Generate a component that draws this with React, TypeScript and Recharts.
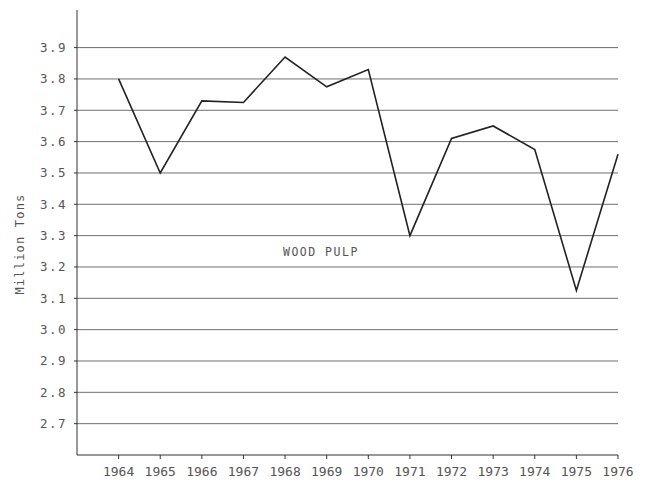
import { CartesianGrid, Line, LineChart, XAxis, YAxis } from "recharts";

const years = [1964, 1965, 1966, 1967, 1968, 1969, 1970, 1971, 1972, 1973, 1974, 1975, 1976];
const woodPulp = [3.8, 3.5, 3.73, 3.725, 3.87, 3.775, 3.83, 3.3, 3.61, 3.65, 3.575, 3.125, 3.56];
const yTicks = [2.7, 2.8, 2.9, 3.0, 3.1, 3.2, 3.3, 3.4, 3.5, 3.6, 3.7, 3.8, 3.9];

const data = years.map((year, i) => ({ year, value: woodPulp[i] }));

const typeFont = "'DejaVu Sans Mono', monospace";

export default function App() {
  return (
    <div style={{ position: "absolute", left: 0, top: 0, width: 665, height: 487, background: "#fff" }}>
      <LineChart
        width={665}
        height={487}
        data={data}
        margin={{ top: 10, right: 47, bottom: 2, left: 0 }}
      >
        <CartesianGrid
          vertical={false}
          horizontalValues={yTicks}
          stroke="#6f6f6f"
          strokeWidth={1}
        />
        <XAxis
          dataKey="year"
          type="number"
          domain={[1963, 1976]}
          ticks={years}
          height={30}
          stroke="#333"
          tickSize={4}
          tickMargin={8}
          tick={{ fill: "#555", fontSize: 13, fontFamily: typeFont }}
        />
        <YAxis
          type="number"
          domain={[2.6, 4.02]}
          ticks={yTicks}
          width={77}
          stroke="#333"
          tickSize={3}
          tickMargin={7}
          tickFormatter={(v: number) => v.toFixed(1)}
          tick={{ fill: "#555", fontSize: 12.5, fontFamily: typeFont, letterSpacing: 1.5 }}
        />
        <Line
          dataKey="value"
          stroke="#222"
          strokeWidth={1.6}
          dot={false}
          isAnimationActive={false}
        />
      </LineChart>
      <div
        style={{
          position: "absolute",
          left: 20,
          top: 244,
          transform: "translate(-50%, -50%) rotate(-90deg)",
          whiteSpace: "nowrap",
          fontFamily: typeFont,
          fontSize: 12,
          letterSpacing: 1.2,
          color: "#555",
        }}
      >
        Million Tons
      </div>
      <div
        style={{
          position: "absolute",
          left: 283,
          top: 245,
          whiteSpace: "nowrap",
          fontFamily: typeFont,
          fontSize: 11.5,
          letterSpacing: 1.5,
          color: "#555",
        }}
      >
        WOOD PULP
      </div>
    </div>
  );
}
